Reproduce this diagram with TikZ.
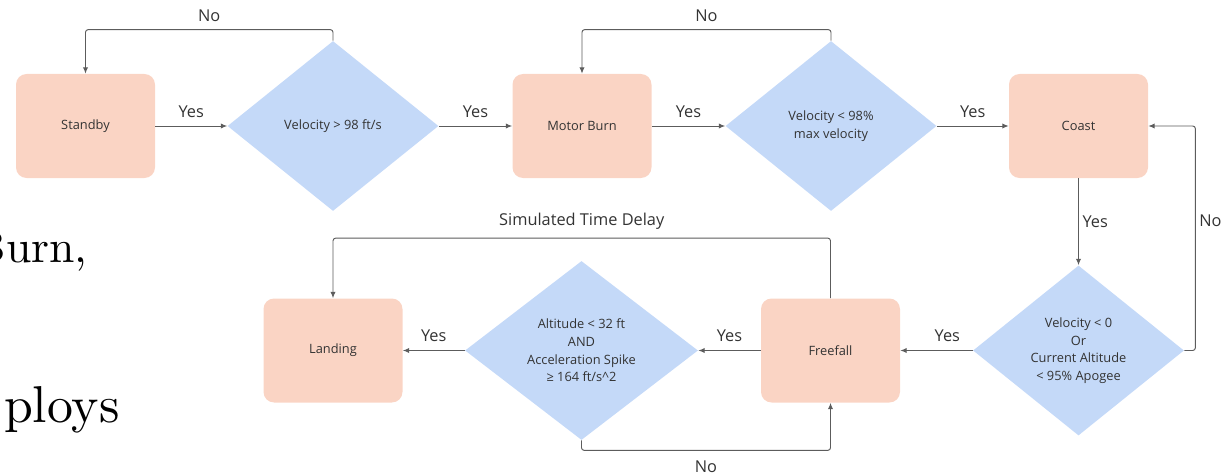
\documentclass[tikz,border=0pt]{standalone}
\usepackage{fontspec}
\usepackage{tikz}
\usetikzlibrary{arrows.meta,shapes.geometric}
\newfontfamily\chartfont{Open Sans}
\newfontfamily\slidefont{lmroman10-regular.otf}
\definecolor{stfill}{HTML}{FAD4C4}
\definecolor{ckfill}{HTML}{C4D9F8}
\definecolor{ink}{HTML}{333333}
\definecolor{wire}{HTML}{5C5C5C}
\tikzset{
  state/.style={fill=stfill, rounded corners=6pt, minimum width=2.78cm, minimum height=2.08cm, align=center, text=ink, font=\chartfont\fontsize{7.3}{10}\selectfont},
  check/.style={diamond, fill=ckfill, minimum width=4.22cm, minimum height=3.4cm, inner sep=0pt, align=center, text=ink, font=\chartfont\fontsize{7.3}{10}\selectfont},
  flow/.style={-{Latex[length=3.6pt,width=3pt]}, draw=wire, line width=0.55pt, rounded corners=1.5pt},
  lbl/.style={font=\chartfont\fontsize{9.3}{11}\selectfont, text=ink, inner sep=2pt},
  slide/.style={inner sep=0pt, anchor=base east},
}

\begin{document}
\begin{tikzpicture}[x=1cm,y=1cm]
  \useasboundingbox (0,0) rectangle (24.5,-9.5);
  \clip (0,0) rectangle (24.5,-9.5);
  % slide text behind the chart
  \node[slide, font=\slidefont\fontsize{26}{30}\selectfont] (word1) at (1.76,-5.24) {Burn,};
  \node[slide, font=\slidefont\fontsize{29.5}{35}\selectfont] (word2) at (2.4,-8.44) {ploys};
  % top row
  \node[state] (standby) at (1.71,-2.52) {Standby};
  \node[check] (liftoff) at (6.66,-2.52) {Velocity > 98 ft/s};
  \node[state] (motor) at (11.64,-2.52) {Motor Burn};
  \node[check] (burnout) at (16.62,-2.52) {Velocity < 98\%\\max velocity};
  \node[state] (coast) at (21.57,-2.52) {Coast};
  % bottom row
  \node[check] (apogee) at (21.57,-7.01) {Velocity < 0\\Or\\Current Altitude\\< 95\% Apogee};
  \node[state] (freefall) at (16.61,-7.01) {Freefall};
  \node[check, minimum width=4.66cm, minimum height=3.58cm] (touchdown) at (11.63,-7.01)
    {Altitude < 32 ft\\AND\\Acceleration Spike\\≥ 164 ft/s\textasciicircum 2};
  \node[state] (landing) at (6.66,-7.01) {Landing};
  % yes branches
  \draw[flow] (standby) -- node[lbl, above=2.5pt]{Yes} (liftoff);
  \draw[flow] (liftoff) -- node[lbl, above=2.5pt]{Yes} (motor);
  \draw[flow] (motor) -- node[lbl, above=2.5pt]{Yes} (burnout);
  \draw[flow] (burnout) -- node[lbl, above=2.5pt]{Yes} (coast);
  \draw[flow] (coast) -- node[lbl, right]{Yes} (apogee);
  \draw[flow] (apogee) -- node[lbl, above=2.5pt, pos=0.35]{Yes} (freefall);
  \draw[flow] (freefall) -- node[lbl, above=2.5pt]{Yes} (touchdown);
  \draw[flow] (touchdown) -- node[lbl, above=2.5pt]{Yes} (landing);
  % no branches and loops
  \draw[flow] (liftoff.north) -- ++(0,0.22) -| node[lbl, above=2.5pt, pos=0.25]{No} (standby.north);
  \draw[flow] (burnout.north) -- ++(0,0.22) -| node[lbl, above=2.5pt, pos=0.25]{No} (motor.north);
  \draw[flow] (apogee.east) -- ++(0.22,0) |- node[lbl, right, pos=0.29]{No} (coast.east);
  \draw[flow] (freefall.north) -- ++(0,1.2) -| node[lbl, above=2.5pt, pos=0.25]{Simulated Time Delay} (landing.north);
  \draw[flow] (touchdown.south) -- ++(0,-0.2) -| node[lbl, below=3.7pt, pos=0.25]{No} (freefall.south);
\end{tikzpicture}
\end{document}
